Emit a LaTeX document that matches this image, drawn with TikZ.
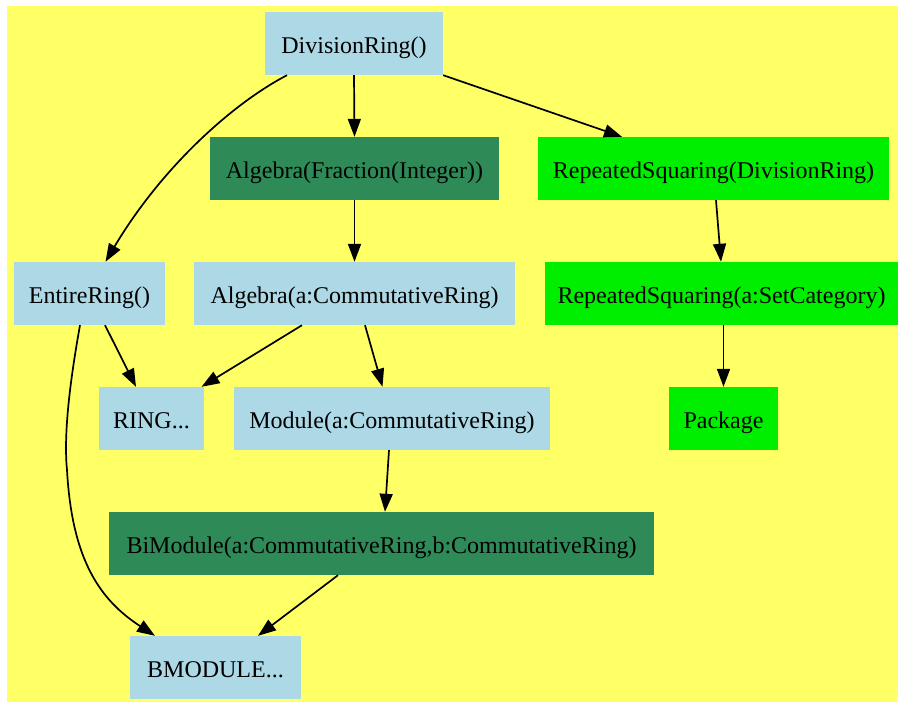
\documentclass[tikz,border=0pt]{standalone}
\usepackage{fontspec}
\setmainfont{Liberation Serif}
\usetikzlibrary{arrows.meta}
\definecolor{bgyellow}{HTML}{FFFF66}
\definecolor{lblue}{HTML}{ADD8E6}
\definecolor{sgreen}{HTML}{2E8B57}
\definecolor{bgreen}{HTML}{00EE00}
\begin{document}
\begin{tikzpicture}[x=1pt,y=-1pt,
  box/.style={rectangle, inner sep=0pt, minimum height=63pt, text height=24pt, text depth=5pt, font=\fontsize{24}{28}\selectfont, text=black},
  bluebox/.style={box, fill=lblue},
  sgbox/.style={box, fill=sgreen},
  grbox/.style={box, fill=bgreen},
  edge/.style={line width=1.7pt, -{Triangle[length=18pt,width=13pt]}}]
\useasboundingbox (0,0) rectangle (898,702);
\fill[bgyellow] (7,6) rectangle (898,702);

\node[bluebox, minimum width=178pt] (dr) at (354,43.5) {DivisionRing()};
\node[sgbox, minimum width=289pt] (aff) at (354.5,168.5) {Algebra(Fraction(Integer))};
\node[grbox, minimum width=351pt] (rsdr) at (713.5,168.5) {RepeatedSquaring(DivisionRing)};
\node[bluebox, minimum width=151pt] (er) at (89.5,293.5) {EntireRing()};
\node[bluebox, minimum width=321pt] (acr) at (354.5,293.5) {Algebra(a:CommutativeRing)};
\node[grbox, minimum width=353pt] (rssc) at (721.5,293.5) {RepeatedSquaring(a:SetCategory)};
\node[bluebox, minimum width=105pt] (ring) at (151.5,418.5) {RING...};
\node[bluebox, minimum width=316pt] (mod) at (392,418.5) {Module(a:CommutativeRing)};
\node[grbox, minimum width=109pt] (pkg) at (723.5,418.5) {Package};
\node[sgbox, minimum width=545pt] (bim) at (381.5,543.5) {BiModule(a:CommutativeRing,b:CommutativeRing)};
\node[bluebox, minimum width=171pt] (bmod) at (215.5,667.5) {BMODULE...};

\draw[edge] ([xshift=-67pt]dr.south) .. controls (230,105) and (160,170) .. ([xshift=16pt]er.north);
\draw[edge] (dr.south) -- (aff.north);
\draw[edge] (dr.south east) -- ([xshift=-91.5pt]rsdr.north);
\draw[edge] (aff.south) -- (acr.north);
\draw[edge] ([xshift=2.5pt]rsdr.south) -- ([xshift=-0.5pt]rssc.north);
\draw[edge] ([xshift=2pt]rssc.south) -- (pkg.north);
\draw[edge] ([xshift=15.5pt]er.south) -- ([xshift=-15.5pt]ring.north);
\draw[edge] ([xshift=-9.5pt]er.south) .. controls (72,370) and (63,430) .. (67,470) .. controls (72,560) and (100,600) .. ([xshift=-60.5pt]bmod.north);
\draw[edge] ([xshift=-52.5pt]acr.south) -- ([xshift=50pt]ring.north);
\draw[edge] ([xshift=10.5pt]acr.south) -- ([xshift=-9.5pt]mod.north);
\draw[edge] ([xshift=-3pt]mod.south) -- ([xshift=3.5pt]bim.north);
\draw[edge] ([xshift=-43.5pt]bim.south) -- ([xshift=42.5pt]bmod.north);
\end{tikzpicture}
\end{document}
